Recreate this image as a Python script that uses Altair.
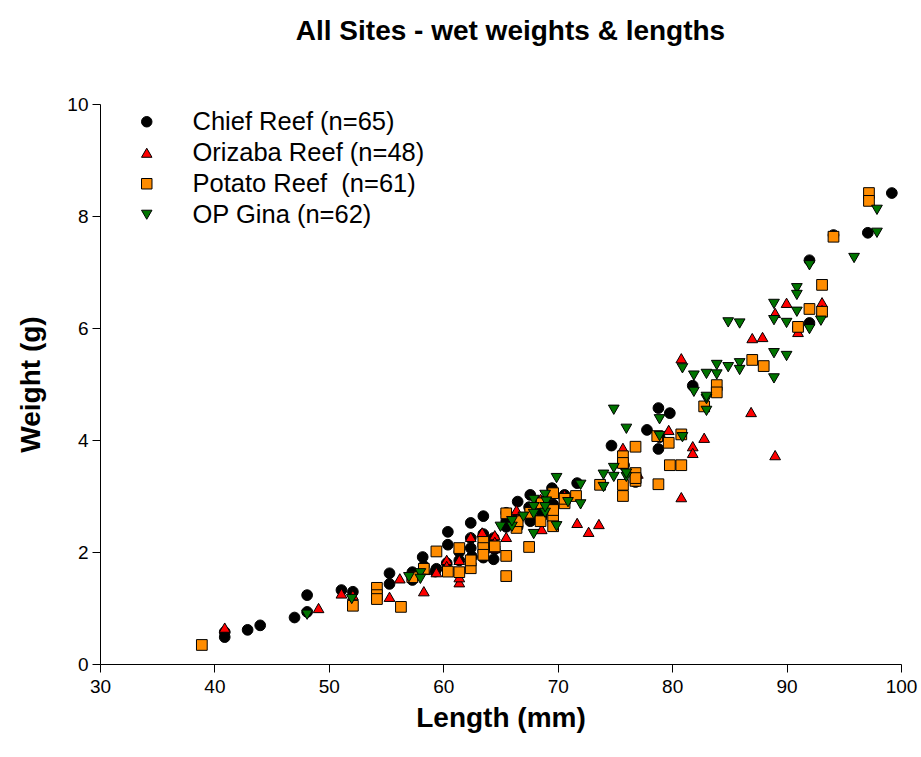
import altair as alt
import pandas as pd

series_names = ["Chief Reef (n=65)", "Orizaba Reef (n=48)", "Potato Reef\u00a0 (n=61)", "OP Gina (n=62)"]
fill_colors = ["#000000", "#ff0000", "#ff8c00", "#007400"]
shapes = ["circle", "triangle-up", "square", "triangle-down"]

chief_len = [40.9, 40.9, 42.9, 44.0, 47.0, 48.1, 48.1, 51.1, 52.1, 55.3, 55.3, 57.3, 57.3, 58.2, 58.3,
             59.4, 60.4, 60.4, 60.3, 61.4, 62.4, 62.4, 62.5, 63.5, 63.5, 63.5, 64.4, 64.5, 65.5, 65.5,
             66.5, 66.5, 67.6, 67.5, 68.6, 68.5, 69.5, 69.6, 70.6, 71.7, 74.7, 76.8, 77.8, 78.8, 79.8,
             78.8, 78.9, 81.8, 92.0, 92.0, 94.1, 97.1, 99.2, 61.4, 64.4, 67.6, 59.3, 65.5, 68.6, 70.6,
             62.4, 66.5, 75.8, 91.0, 76.8]
chief_wt = [0.48, 0.57, 0.61, 0.69, 0.83, 1.23, 0.93, 1.32, 1.29, 1.62, 1.43, 1.64, 1.50, 1.91, 1.75,
            1.70, 2.36, 2.13, 1.80, 1.85, 2.52, 2.07, 1.92, 2.64, 2.32, 1.90, 1.87, 2.05, 2.70, 2.45,
            2.90, 2.62, 3.02, 2.80, 2.63, 2.90, 3.14, 2.85, 3.02, 3.23, 3.90, 3.25, 4.18, 4.57, 4.48,
            3.84, 4.05, 4.97, 6.09, 7.21, 7.66, 7.70, 8.41, 2.00, 2.25, 2.55, 1.65, 2.55, 2.72, 2.95,
            2.25, 2.45, 3.55, 6.00, 3.30]

oriz_len = [40.9, 49.1, 51.1, 52.1, 55.3, 56.2, 58.3, 58.4, 59.4, 60.3, 61.4, 61.4, 61.4, 62.4, 64.5,
            64.5, 64.5, 65.5, 66.4, 68.6, 70.6, 71.7, 72.7, 73.6, 75.7, 79.7, 80.8, 81.8, 81.8, 82.8,
            86.9, 89.0, 80.8, 87.0, 87.9, 89.0, 90.0, 91.0, 93.1, 93.1, 63.5, 67.5, 69.6, 68.5, 63.4,
            66.5, 60.3, 77.0]
oriz_wt = [0.65, 1.00, 1.26, 1.23, 1.20, 1.53, 1.30, 1.68, 1.64, 1.86, 1.86, 1.46, 1.55, 2.27, 2.30,
           2.18, 2.07, 2.27, 2.75, 2.41, 3.02, 2.52, 2.36, 2.50, 3.86, 4.18, 2.98, 3.89, 3.77, 4.04,
           4.50, 3.73, 5.46, 5.82, 5.84, 6.27, 6.45, 5.93, 6.46, 6.32, 2.10, 2.75, 2.65, 2.95, 2.35,
           2.60, 1.75, 3.40]

potato_len = [38.9, 52.1, 54.2, 54.2, 54.2, 56.3, 59.4, 61.4, 61.4, 62.4, 63.5, 63.5, 65.5, 65.5, 65.5,
              66.4, 67.5, 68.6, 69.6, 69.6, 69.6, 70.6, 75.7, 75.7, 76.8, 76.8, 76.8, 75.7, 75.7, 78.8,
              79.8, 80.8, 79.7, 78.7, 83.9, 83.9, 87.0, 88.0, 91.0, 92.0, 93.1, 93.1, 94.1, 97.2, 97.2,
              60.4, 64.5, 66.5, 67.6, 68.5, 62.4, 71.6, 58.3, 76.8, 70.6, 80.8, 57.3, 63.5, 73.7, 82.8,
              69.6]
potato_wt = [0.34, 1.04, 1.36, 1.23, 1.16, 1.02, 2.01, 2.07, 1.64, 1.71, 2.18, 2.07, 1.93, 1.57, 2.69,
             2.43, 2.09, 2.87, 3.05, 2.63, 2.46, 2.87, 3.71, 3.59, 3.88, 3.41, 3.27, 3.20, 3.00, 3.21,
             3.55, 3.55, 3.95, 4.07, 4.98, 4.85, 5.43, 5.32, 6.02, 6.34, 6.29, 6.77, 7.63, 8.41, 8.27,
             1.65, 2.10, 2.55, 2.70, 2.55, 1.85, 3.00, 1.70, 3.32, 2.95, 4.10, 1.55, 1.95, 3.20, 4.60,
             2.75]

gina_len = [48.1, 52.0, 57.0, 58.0, 58.0, 65.0, 66.0, 67.0, 67.9, 67.9, 67.9, 68.9, 68.9, 67.9, 69.9,
            69.9, 72.0, 72.0, 70.9, 69.0, 74.0, 74.0, 74.9, 74.9, 76.0, 78.9, 74.9, 76.0, 78.9, 81.9,
            83.0, 83.0, 80.9, 81.9, 83.0, 83.9, 83.9, 84.9, 85.9, 85.9, 88.9, 88.9, 90.0, 84.9, 85.9,
            88.9, 88.9, 90.0, 90.9, 90.9, 90.9, 92.0, 92.0, 93.0, 95.9, 97.9, 97.9, 83.0, 66.0, 68.9,
            76.0, 80.9]
gina_wt = [0.88, 1.16, 1.55, 1.62, 1.52, 2.45, 2.45, 2.63, 2.93, 2.80, 2.68, 3.02, 2.70, 2.32, 2.46,
           3.32, 3.20, 2.85, 2.89, 2.90, 3.38, 3.16, 3.50, 3.34, 3.34, 4.07, 4.54, 4.20, 4.37, 4.86,
           4.73, 4.52, 5.28, 5.15, 5.18, 5.34, 5.17, 5.30, 5.37, 5.25, 5.10, 5.55, 5.50, 6.10, 6.08,
           6.43, 6.14, 6.09, 6.29, 6.71, 6.59, 7.12, 5.98, 6.13, 7.25, 7.70, 8.11, 4.77, 2.55, 2.80,
           3.40, 4.05]

frames = []
for name, L, W in zip(series_names, [chief_len, oriz_len, potato_len, gina_len],
                      [chief_wt, oriz_wt, potato_wt, gina_wt]):
    frames.append(pd.DataFrame({"Length": L, "Weight": W, "Site": name}))
df = pd.concat(frames, ignore_index=True)
df["order"] = df["Site"].map({n: i for i, n in enumerate(series_names)})

FONT = "Liberation Sans"

points = alt.Chart(df).mark_point(
    filled=True, size=115, stroke="black", strokeWidth=1, opacity=1
).encode(
    x=alt.X("Length:Q", scale=alt.Scale(domain=[30, 100], nice=False, zero=False),
            axis=alt.Axis(title="Length (mm)", values=[30, 40, 50, 60, 70, 80, 90, 100])),
    y=alt.Y("Weight:Q", scale=alt.Scale(domain=[0, 10], nice=False),
            axis=alt.Axis(title="Weight (g)", values=[0, 2, 4, 6, 8, 10])),
    color=alt.Color("Site:N", scale=alt.Scale(domain=series_names, range=fill_colors),
                    sort=series_names,
                    legend=alt.Legend(title=None, orient="none", legendX=34, legendY=5,
                                      labelFontSize=25.5, labelFont=FONT, labelColor="black",
                                      symbolSize=110, symbolStrokeColor="black", symbolStrokeWidth=1,
                                      labelOffset=33, rowPadding=4, labelLimit=500)),
    shape=alt.Shape("Site:N", scale=alt.Scale(domain=series_names, range=shapes), sort=series_names),
    order=alt.Order("order:Q"),
)

chart = points.properties(
    width=801, height=560,
    title=alt.TitleParams("All Sites - wet weights & lengths", fontSize=28, font=FONT,
                          fontWeight="bold", color="black", offset=49, dx=10),
    autosize=alt.AutoSizeParams(type="none"),
    padding={"left": 100, "top": 104, "right": 20, "bottom": 93},
).configure_view(stroke=None).configure_axis(
    grid=False, domainColor="black", tickColor="black", tickSize=8, domainWidth=1, tickWidth=1,
    labelFont=FONT, labelFontSize=19, labelColor="black", titleFont=FONT, titleFontSize=28,
    titleFontWeight="bold", titleColor="black", labelPadding=5, labelFlush=False,
).configure_axisX(titlePadding=8).configure_axisY(titlePadding=21, labelPadding=4)

chart.save("out.html", embed_options={"renderer": "svg", "actions": False})
